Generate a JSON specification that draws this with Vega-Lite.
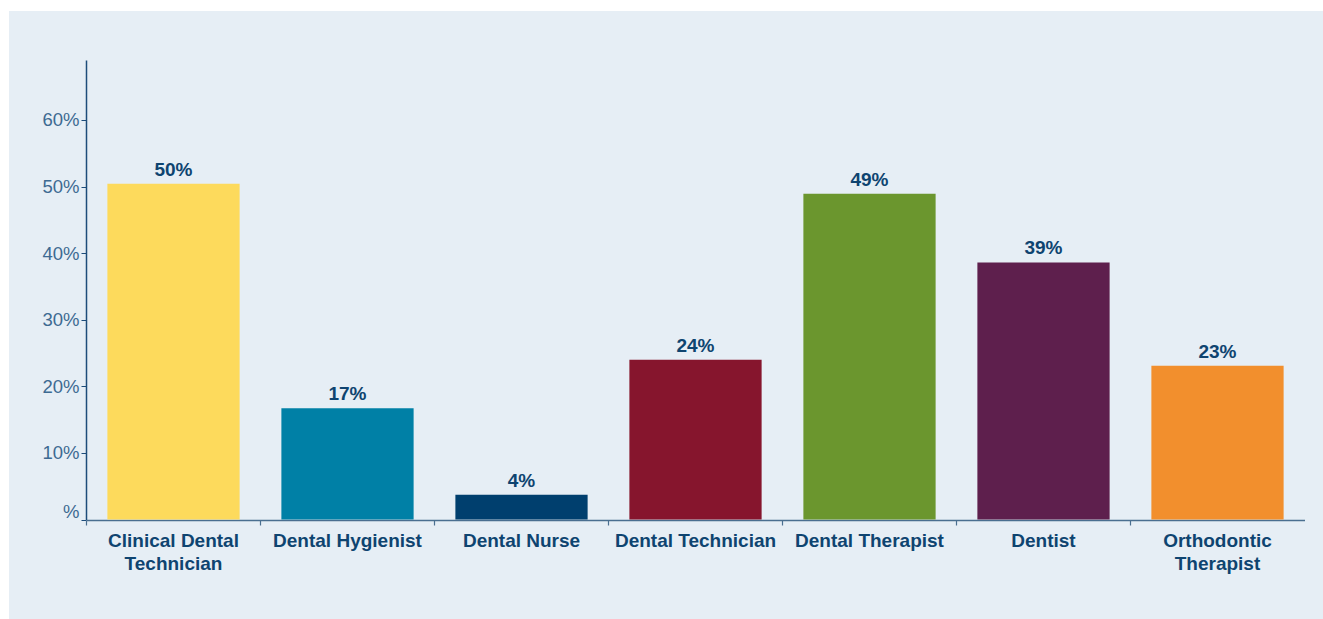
{
  "$schema": "https://vega.github.io/schema/vega-lite/v6.json",
  "autosize": "none",
  "width": 1314,
  "height": 608,
  "padding": {"left": 9, "top": 11, "right": 0, "bottom": 0},
  "background": "#FFFFFF",
  "config": {
    "view": {"stroke": null, "fill": "#E6EEF5"},
    "font": "Liberation Sans"
  },
  "data": {
    "values": [
      {"role": "Clinical Dental Technician", "share": 0.504},
      {"role": "Dental Hygienist", "share": 0.167},
      {"role": "Dental Nurse", "share": 0.037},
      {"role": "Dental Technician", "share": 0.240},
      {"role": "Dental Therapist", "share": 0.489},
      {"role": "Dentist", "share": 0.386},
      {"role": "Orthodontic Therapist", "share": 0.231}
    ]
  },
  "encoding": {
    "x": {
      "field": "role",
      "type": "nominal",
      "sort": null,
      "scale": {"paddingInner": 0, "paddingOuter": 0, "range": [77.5, 1295.5]},
      "axis": {
        "title": null,
        "orient": "bottom",
        "offset": -99,
        "labelAngle": 0,
        "bandPosition": 0,
        "domainColor": "#4A6F90",
        "domainWidth": 1.5,
        "tickColor": "#4A6F90",
        "tickSize": 5,
        "tickWidth": 1.2,
        "labelFont": "Liberation Sans",
        "labelFontWeight": "bold",
        "labelFontSize": 19,
        "labelColor": "#0E4470",
        "labelPadding": 6,
        "labelLineHeight": 23,
        "labelLimit": 300,
        "labelExpr": "datum.value == 'Clinical Dental Technician' ? ['Clinical Dental', 'Technician'] : datum.value == 'Orthodontic Therapist' ? ['Orthodontic', 'Therapist'] : datum.value"
      }
    },
    "y": {
      "field": "share",
      "type": "quantitative",
      "scale": {"domain": [0, 0.69], "nice": false, "range": [508.5, 49]},
      "axis": {
        "title": null,
        "orient": "left",
        "offset": -77,
        "values": [0, 0.1, 0.2, 0.3, 0.4, 0.5, 0.6],
        "grid": false,
        "domainColor": "#1D4C7A",
        "domainWidth": 1.5,
        "tickColor": "#1D4C7A",
        "tickSize": 5,
        "labelPadding": 2,
        "labelFont": "Liberation Sans",
        "labelFontSize": 18.5,
        "labelColor": "#3D6A92",
        "labelOffset": {"condition": {"test": "datum.value == 0", "value": -8}, "value": 0},
        "labelExpr": "datum.value == 0 ? '%' : format(datum.value, '.0%')"
      }
    }
  },
  "layer": [
    {
      "mark": {"type": "bar", "width": {"band": 0.76}},
      "encoding": {
        "color": {
          "field": "role",
          "type": "nominal",
          "sort": null,
          "legend": null,
          "scale": {
            "domain": ["Clinical Dental Technician", "Dental Hygienist", "Dental Nurse", "Dental Technician", "Dental Therapist", "Dentist", "Orthodontic Therapist"],
            "range": ["#FDDA5C", "#0080A6", "#003F6E", "#86152D", "#6B962E", "#5E1F4D", "#F28F2D"]
          }
        }
      }
    },
    {
      "mark": {"type": "text", "baseline": "alphabetic", "dy": -8, "fontWeight": "bold", "fontSize": 19, "color": "#0E4470", "font": "Liberation Sans"},
      "encoding": {
        "text": {"field": "share", "type": "quantitative", "format": ".0%"}
      }
    }
  ]
}
